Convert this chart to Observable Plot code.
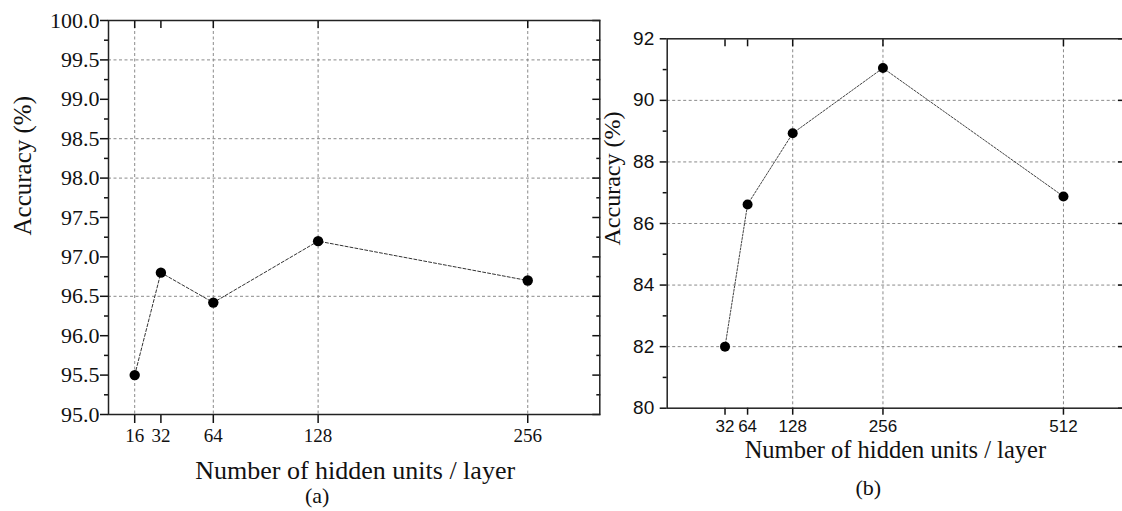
<!DOCTYPE html>
<html><head><meta charset="utf-8">
<script src="https://cdn.jsdelivr.net/npm/d3@7"></script>
<script src="https://cdn.jsdelivr.net/npm/@observablehq/plot@0.6"></script>
<style>
html,body{margin:0;padding:0;background:#fff;}
#wrap{position:relative;width:1122px;height:511px;overflow:hidden;background:#fff;}
#a,#b{position:absolute;top:0;}
#a{left:0;width:605px;} #b{left:560px;width:570px;}
#a svg,#b svg{max-width:none !important;}
</style></head><body><div id="wrap"><div id="b"></div><div id="a"></div></div>
<script>
// ---- Panel (a) ----
const unitsA = [16, 32, 64, 128, 256];
const accA = [95.5, 96.8, 96.42, 97.2, 96.7];
const xTicksA = [16, 32, 64, 128, 256];
const xGridA = [16, 64, 128, 256];
const yTicksA = [95, 95.5, 96, 96.5, 97, 97.5, 98, 98.5, 99, 99.5, 100];
const yMinorA = [95.25, 95.75, 96.25, 96.75, 97.25, 97.75, 98.25, 98.75, 99.25, 99.75];
const yGridA = [96.5, 98, 98.5, 99.5];

// ---- Panel (b) ----
const unitsB = [32, 64, 128, 256, 512];
const accB = [82.0, 86.62, 88.93, 91.05, 86.88];
const xTicksB = [32, 64, 128, 256, 512];
const xGridB = [128, 256, 512];
const yTicksB = [80, 82, 84, 86, 88, 90, 92];
const yMinorB = [81, 83, 85, 87, 89, 91];
const yGridB = [82, 84, 86, 88, 90];

const xTitle = "Number of hidden units / layer";
const yTitle = "Accuracy (%)";
const labelA = "(a)";
const labelB = "(b)";

const serif = "'Liberation Serif', 'Times New Roman', serif";
const sans = "'Liberation Sans', Arial, sans-serif";
const blank = () => "";
const gridStyle = {stroke: "#8a8a8a", strokeOpacity: 1, strokeWidth: 1, strokeDasharray: "3,2.5"};

const dataA = unitsA.map((u, i) => ({units: u, acc: accA[i]}));
const dataB = unitsB.map((u, i) => ({units: u, acc: accB[i]}));

const plotA = Plot.plot({
  width: 605, height: 511,
  marginLeft: 108, marginRight: 5.7, marginTop: 20, marginBottom: 97,
  style: {background: "transparent", overflow: "visible", color: "#111", maxWidth: "none"},
  x: {domain: [0, 300]},
  y: {domain: [95, 100]},
  marks: [
    Plot.gridY(yGridA, gridStyle),
    Plot.gridX(xGridA, gridStyle),
    Plot.axisY(yTicksA, {anchor: "left", tickSize: 8, tickPadding: 1, strokeWidth: 1.5, tickFormat: d3.format(".1f"), fontSize: 22, fontFamily: serif, letterSpacing: 1, label: null}),
    Plot.axisY(yMinorA, {anchor: "left", tickSize: 4, strokeWidth: 1.5, tickFormat: blank, label: null}),
    Plot.axisY(yTicksA, {anchor: "right", tickSize: 8, inset: 8, strokeWidth: 1.5, tickFormat: blank, label: null}),
    Plot.axisY(yMinorA, {anchor: "right", tickSize: 4, inset: 4, strokeWidth: 1.5, tickFormat: blank, label: null}),
    Plot.axisX(xTicksA, {anchor: "bottom", tickSize: 9, tickPadding: 5, strokeWidth: 1.5, tickFormat: d => String(d), fontSize: 19, fontFamily: serif, label: null}),
    Plot.axisX(xTicksA, {anchor: "top", tickSize: 7, inset: 7, strokeWidth: 1.5, tickFormat: blank, label: null}),
    Plot.frame({stroke: "#222", strokeWidth: 1.5}),
    Plot.line(dataA, {x: "units", y: "acc", stroke: "#333", strokeWidth: 1, strokeDasharray: "3,2"}),
    Plot.dot(dataA, {x: "units", y: "acc", r: 5.2, fill: "#000", stroke: "none"}),
    Plot.text([yTitle], {text: d => d, frameAnchor: "left", rotate: -90, dx: -86, dy: 18, fontSize: 25, fontFamily: serif, fill: "#111"}),
    Plot.text([xTitle], {text: d => d, frameAnchor: "bottom", lineAnchor: "bottom", dx: 1, dy: 64, fontSize: 26, fontFamily: serif, fill: "#111"}),
    Plot.text([labelA], {text: d => d, frameAnchor: "bottom", lineAnchor: "bottom", dx: -37, dy: 88, fontSize: 22, fontFamily: serif, fill: "#111"})
  ]
});

const plotB = Plot.plot({
  width: 570, height: 511,
  marginLeft: 106.7, marginRight: 5, marginTop: 38.3, marginBottom: 103.3,
  style: {background: "transparent", overflow: "visible", color: "#111", maxWidth: "none"},
  x: {domain: [-50, 600]},
  y: {domain: [80, 92]},
  marks: [
    Plot.gridY(yGridB, gridStyle),
    Plot.gridX(xGridB, gridStyle),
    Plot.axisY(yTicksB, {anchor: "left", tickSize: 7, tickPadding: 6, strokeWidth: 1.5, tickFormat: d => String(d), fontSize: 19, fontFamily: sans, label: null}),
    Plot.axisY(yMinorB, {anchor: "left", tickSize: 4, strokeWidth: 1.5, tickFormat: blank, label: null}),
    Plot.axisY(yTicksB, {anchor: "right", tickSize: 8, inset: 8, strokeWidth: 1.5, tickFormat: blank, label: null}),
    Plot.axisY(yMinorB, {anchor: "right", tickSize: 4, inset: 4, strokeWidth: 1.5, tickFormat: blank, label: null}),
    Plot.axisX(xTicksB, {anchor: "bottom", tickSize: 7, tickPadding: 5, strokeWidth: 1.5, tickFormat: d => String(d), fontSize: 17, fontFamily: sans, label: null}),
    Plot.axisX(xTicksB, {anchor: "top", tickSize: 7, inset: 7, strokeWidth: 1.5, tickFormat: blank, label: null}),
    Plot.frame({stroke: "#222", strokeWidth: 1.5}),
    Plot.line(dataB, {x: "units", y: "acc", stroke: "#444", strokeWidth: 1, strokeDasharray: "2,1.5"}),
    Plot.dot(dataB, {x: "units", y: "acc", r: 5, fill: "#000", stroke: "none"}),
    Plot.text([yTitle], {text: d => d, frameAnchor: "left", rotate: -90, dx: -54.7, dy: 22, fontSize: 24, fontFamily: serif, fill: "#111"}),
    Plot.text([xTitle], {text: d => d, frameAnchor: "bottom", lineAnchor: "bottom", dx: -1, dy: 50, fontSize: 24.5, fontFamily: serif, fill: "#111"}),
    Plot.text([labelB], {text: d => d, frameAnchor: "bottom", lineAnchor: "bottom", dx: -28, dy: 87, fontSize: 22, fontFamily: serif, fill: "#111"})
  ]
});

document.getElementById("a").appendChild(plotA);
document.getElementById("b").appendChild(plotB);
</script>
</body></html>
